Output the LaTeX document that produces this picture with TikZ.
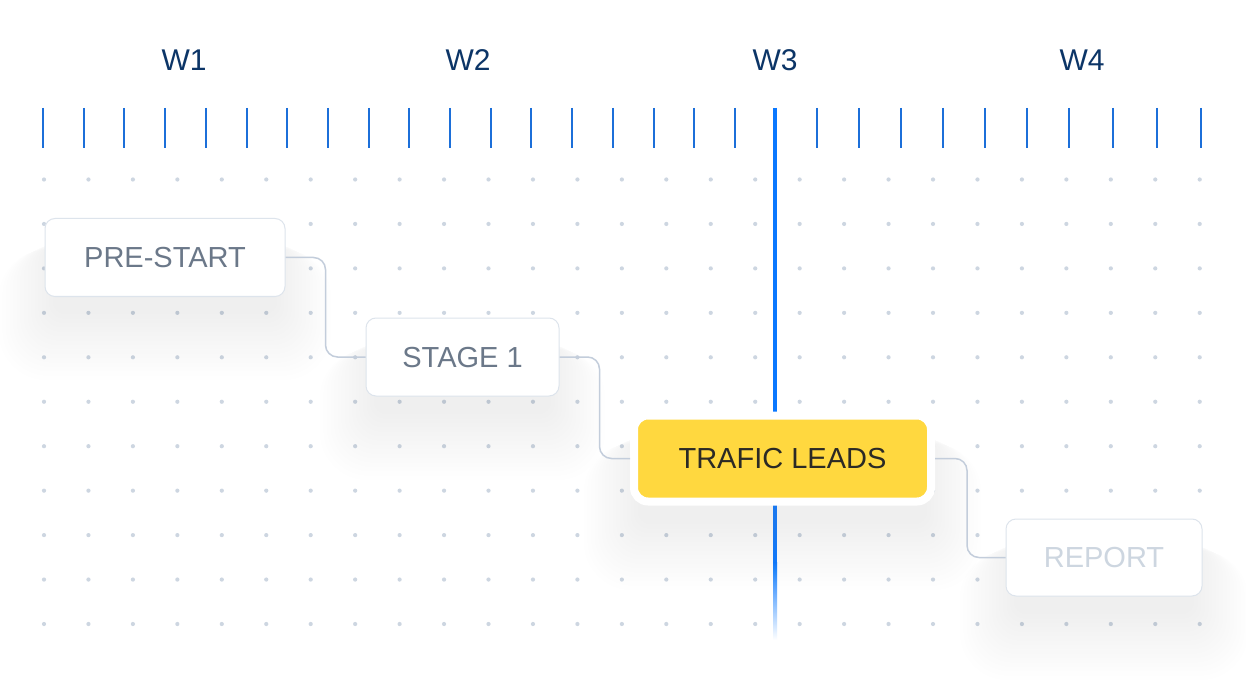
\documentclass[tikz,border=0pt]{standalone}
\usepackage{fontspec}
\setmainfont{Liberation Sans}
\definecolor{tickc}{HTML}{1C6FD9}
\definecolor{thickc}{HTML}{0A78FF}
\definecolor{dotc}{HTML}{CDD6E1}
\definecolor{navy}{HTML}{0C3567}
\definecolor{slate}{HTML}{6B7889}
\definecolor{faint}{HTML}{CDD6E0}
\definecolor{darktext}{HTML}{2B2A25}
\definecolor{yellowc}{HTML}{FFD83F}
\definecolor{boxborder}{HTML}{DDE4EC}
\definecolor{connc}{HTML}{C3CDDB}
\definecolor{shadowc}{HTML}{9AA1AE}
\newcommand{\softshadow}[4]{%
  \foreach \e in {0,4,...,60}{%
    \pgfmathsetmacro{\rc}{12+0.6*\e}%
    \fill[shadowc, fill opacity=0.009, rounded corners=\rc pt]
      ({#1+8-\e*0.9},{#2+20+\e*0.2}) rectangle ({#3-8+\e*0.9},{#4+18+\e*1.1});
  }}
\begin{document}
\begin{tikzpicture}[x=1pt,y=-1pt,
  tick/.style={draw=tickc, line width=2pt},
  thickline/.style={draw=thickc, line width=4pt},
  wlabel/.style={text=navy, font=\fontsize{30}{36}\selectfont, text height=21.5pt, text depth=0pt, inner sep=0pt},
  box/.style={draw=boxborder, line width=1pt, fill=white, rounded corners=10pt, minimum height=78pt,
    text=slate, font=\fontsize{29}{34}\selectfont, text height=20.8pt, text depth=0pt, inner sep=0pt},
  conn/.style={draw=connc, line width=1.5pt, rounded corners=12pt},
]
\useasboundingbox[fill=white] (0,0) rectangle (1246,692);

% dot grid
\foreach \i in {0,...,26}{
  \foreach \j in {0,...,10}{
    \fill[dotc] ({44+44.45*\i},{179.5+44.45*\j}) circle (2.1);
  }
}

% ticks
\foreach \t in {43,83.7,124.4,165.1,205.8,246.5,287.2,327.9,368.6,409.3,450,490.7,531.4,572.1,612.8,653.5,694.2,734.9,817,859,901,943,985,1027,1069,1113,1157,1201}{
  \draw[tick] (\t,108) -- (\t,148);
}

% current-time line
\draw[thickline] (775,108) -- (775,563);
\shade[top color=thickc, bottom color=white] (773,562.5) rectangle (777,640);

% week labels
\node[wlabel] (w1) at (184,60) {W1};
\node[wlabel] (w2) at (468,60) {W2};
\node[wlabel] (w3) at (775,60) {W3};
\node[wlabel] (w4) at (1082,60) {W4};

% shadows
\softshadow{45}{218}{285}{296}
\softshadow{366}{318}{559}{396}
\softshadow{630}{412}{935}{506}
\softshadow{1006}{519}{1202}{596}

% boxes
\node[box, minimum width=240pt] (pre) at (165,257.5) {PRE-START};
\node[box, minimum width=193pt] (s1) at (462.5,357) {STAGE 1};
\node[box, fill=yellowc, draw=white, line width=8pt, rounded corners=14pt,
      minimum width=297pt, minimum height=86pt, text=darktext] (tl) at (782.5,458.5) {TRAFIC LEADS};
\node[box, minimum width=196pt, minimum height=77pt, text=faint] (rep) at (1104,557.5) {REPORT};

% connectors
\draw[conn] (pre.east) -- ++(40,0) |- (s1.west);
\draw[conn] (s1.east) -- ++(40,0) |- (tl.west);
\draw[conn] (tl.east) -- ++(32,0) |- (rep.west);
\end{tikzpicture}
\end{document}
